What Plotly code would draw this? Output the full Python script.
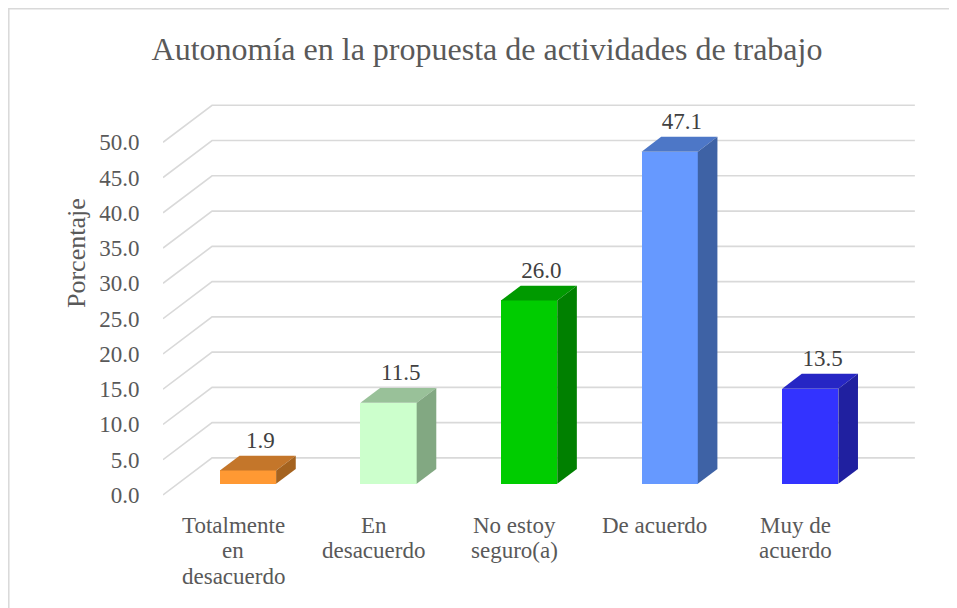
import plotly.graph_objects as go

# ---- data ----
categories = [["Totalmente", "en", "desacuerdo"], ["En", "desacuerdo"], ["No estoy", "seguro(a)"],
              ["De acuerdo"], ["Muy de", "acuerdo"]]
values = [1.9, 11.5, 26.0, 47.1, 13.5]
y_ticks = [0, 5, 10, 15, 20, 25, 30, 35, 40, 45, 50]
front_colors = ["#FF9933", "#CCFFCC", "#00CC00", "#6699FF", "#3333FF"]
top_colors = ["#C4762A", "#99C199", "#009A00", "#4D77C7", "#2626C4"]
side_colors = ["#A5631F", "#82A882", "#008000", "#3E62A5", "#2020A0"]
title_text = "Autonomía en la propuesta de actividades de trabajo"
y_title = "Porcentaje"

# ---- pseudo-3D projection parameters (axis units) ----
DX = 0.349      # horizontal shift per full depth (category units)
DY = 5.25       # vertical shift per full depth (value units)
D0, D1 = 0.3, 0.7   # bar depth span
BW = 0.4        # bar width
n = len(values)
xs = list(range(n))

FONT = "Liberation Serif, Times New Roman, serif"
W, H = 957, 608
OFF = 8  # page body margin
L, T = 163 - OFF, 100 - OFF
pw, ph = 752, 402
R, B = W - L - pw, H - T - ph
XR = [-0.5, n - 0.5 + DX + 0.001]
YR = [-1, 56]


def paper_x(px):
    return (px - OFF - L) / pw


def paper_y(py):
    return (T + ph - (py - OFF)) / ph


fig = go.Figure()

# gridlines (side wall + back wall) on the base axes
for v in y_ticks:
    fig.add_trace(go.Scatter(
        x=[-0.5, -0.5 + DX, n - 0.5 + DX],
        y=[v, v + DY, v + DY],
        mode="lines", line=dict(color="#D9D9D9", width=1.6),
        hoverinfo="skip", showlegend=False, xaxis="x", yaxis="y"))

# front faces (overlay axes so they sit above the gridlines)
fig.add_trace(go.Bar(
    x=[c + D0 * DX for c in xs], y=values, base=D0 * DY, width=BW,
    marker=dict(color=front_colors, line=dict(width=0)),
    hoverinfo="skip", showlegend=False, xaxis="x2", yaxis="y2"))

# top and side faces
for c, v, tc, sc in zip(xs, values, top_colors, side_colors):
    xl, xr = c - BW / 2, c + BW / 2
    fig.add_trace(go.Scatter(
        x=[xl + D0 * DX, xl + D1 * DX, xr + D1 * DX, xr + D0 * DX, xl + D0 * DX],
        y=[v + D0 * DY, v + D1 * DY, v + D1 * DY, v + D0 * DY, v + D0 * DY],
        mode="lines", fill="toself", fillcolor=tc, line=dict(width=0, color=tc),
        hoverinfo="skip", showlegend=False, xaxis="x2", yaxis="y2"))
    fig.add_trace(go.Scatter(
        x=[xr + D0 * DX, xr + D0 * DX, xr + D1 * DX, xr + D1 * DX, xr + D0 * DX],
        y=[D0 * DY, v + D0 * DY, v + D1 * DY, D1 * DY, D0 * DY],
        mode="lines", fill="toself", fillcolor=sc, line=dict(width=0, color=sc),
        hoverinfo="skip", showlegend=False, xaxis="x2", yaxis="y2"))

# data labels
fig.add_trace(go.Scatter(
    x=[c + 0.55 * DX for c in xs], y=[v + D1 * DY + 0.3 for v in values],
    mode="text", text=[f"{v:.1f}" for v in values], textposition="top center",
    textfont=dict(family=FONT, size=23, color="#404040"),
    hoverinfo="skip", showlegend=False, xaxis="x2", yaxis="y2"))

# category labels (one annotation per line for Excel-like line spacing)
LINE0, LSTEP = 525, 25.7
for c, lines in zip(xs, categories):
    for k, line in enumerate(lines):
        fig.add_annotation(text=line, x=c, xref="x", yref="paper", xanchor="center",
                           y=paper_y(LINE0 + k * LSTEP), yanchor="middle",
                           showarrow=False,
                           font=dict(family=FONT, size=23, color="#595959"))

# chart border
fig.add_shape(type="rect", xref="paper", yref="paper",
              x0=paper_x(OFF + 0.8), x1=paper_x(990),
              y0=paper_y(640), y1=paper_y(OFF + 0.8),
              line=dict(color="#D9D9D9", width=1.5), layer="below")

# axis title
fig.add_annotation(text=y_title, xref="paper", yref="paper",
                   x=paper_x(76), y=paper_y(253), textangle=-90,
                   xanchor="center", yanchor="middle",
                   showarrow=False, font=dict(family=FONT, size=26, color="#595959"))

fig.update_layout(
    width=W, height=H,
    margin=dict(l=L, r=R, t=T, b=B),
    paper_bgcolor="white", plot_bgcolor="white",
    title=dict(text=title_text, x=(487 - OFF) / W, xanchor="center",
               y=1 - (49 - OFF) / H, yanchor="middle",
               font=dict(family=FONT, size=32, color="#595959")),
    xaxis=dict(range=XR, showticklabels=False, automargin=False,
               showgrid=False, zeroline=False, showline=False, ticks=""),
    yaxis=dict(range=YR, tickvals=y_ticks, ticktext=[f"{t:.1f}" for t in y_ticks],
               automargin=False, showgrid=False, zeroline=False, showline=False,
               ticks="outside", ticklen=18, tickcolor="rgba(0,0,0,0)",
               tickfont=dict(family=FONT, size=23, color="#595959")),
    xaxis2=dict(range=XR, overlaying="x", visible=False, automargin=False),
    yaxis2=dict(range=YR, overlaying="y", visible=False, automargin=False),
    bargap=0,
)

fig.write_html("out.html")
